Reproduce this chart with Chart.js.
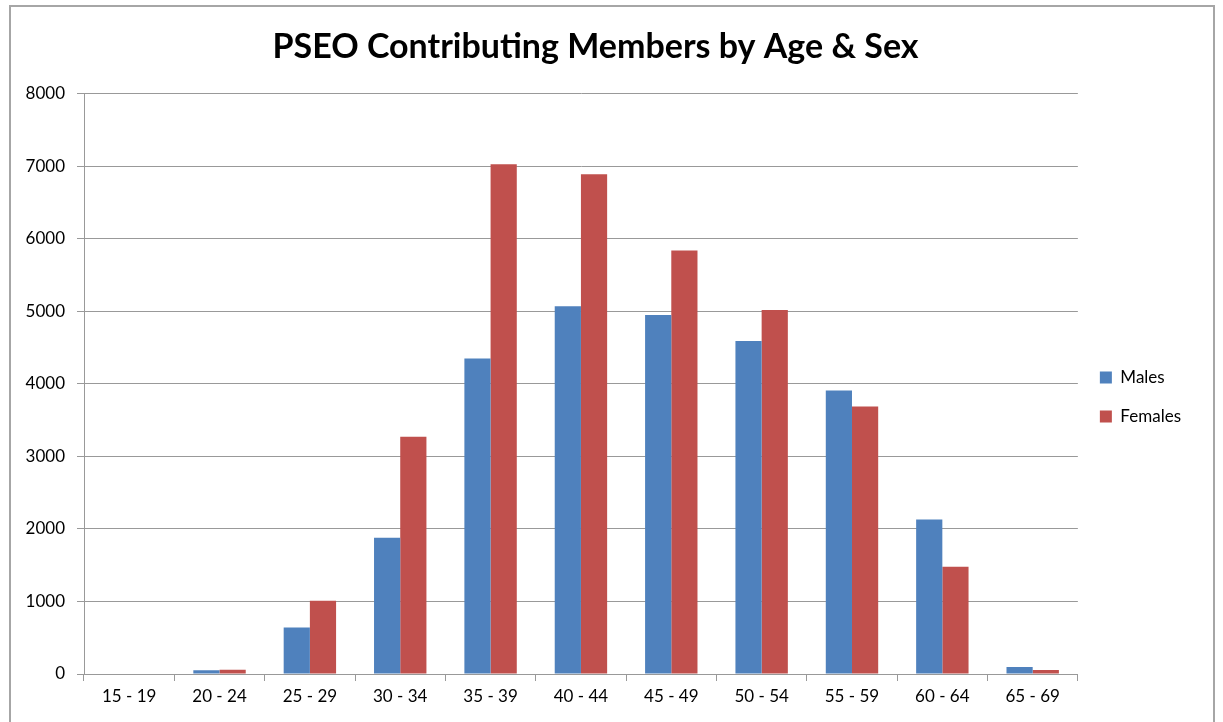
<!DOCTYPE html>
<html lang="en">
<head>
  <meta charset="UTF-8">
  <title>PSEO Contributing Members by Age &amp; Sex</title>
  <script src="https://cdn.jsdelivr.net/npm/chart.js"></script>
  <style>
    body { margin: 0; background: #fff; }
    #frame {
      position: absolute; left: 9px; top: 5px; width: 1206px; height: 730px;
      border: 2px solid #a6a6a6; box-sizing: border-box;
    }
    #wrap { position: absolute; left: 0; top: 0; width: 1223px; height: 722px; }
  </style>
</head>
<body>
  <div id="frame"></div>
  <div id="wrap"><canvas id="ageChart"></canvas></div>

  <script>
    const ageGroups = ['15 - 19', '20 - 24', '25 - 29', '30 - 34', '35 - 39', '40 - 44',
                       '45 - 49', '50 - 54', '55 - 59', '60 - 64', '65 - 69'];
    const males   = [0, 50, 640, 1880, 4350, 5070, 4950, 4590, 3910, 2130, 95];
    const females = [0, 60, 1010, 3270, 7030, 6890, 5840, 5020, 3690, 1480, 55];
    const yTicks  = [0, 1000, 2000, 3000, 4000, 5000, 6000, 7000, 8000];

    const font = 'Lato, "Open Sans", sans-serif';

    const ctx = document.getElementById('ageChart').getContext('2d');
    new Chart(ctx, {
      type: 'bar',
      data: {
        labels: ageGroups,
        datasets: [
          { label: 'Males', data: males, backgroundColor: '#4F81BD' },
          { label: 'Females', data: females, backgroundColor: '#C0504D' }
        ]
      },
      options: {
        responsive: true,
        maintainAspectRatio: false,
        animation: false,
        layout: { padding: { left: 0, right: 32, top: 0, bottom: 0 } },
        datasets: { bar: { categoryPercentage: 0.58, barPercentage: 1.0 } },
        scales: {
          x: {
            grid: { offset: true, drawOnChartArea: false, color: '#999', tickLength: 7 },
            border: { color: '#999' },
            ticks: { color: '#000', font: { family: font, size: 17 }, padding: 5 },
            afterFit: (scale) => { scale.height = 48; }
          },
          y: {
            min: 0, max: 8000,
            afterBuildTicks: (scale) => { scale.ticks = yTicks.map(v => ({ value: v })); },
            grid: { color: '#999', tickLength: 7 },
            border: { color: '#999' },
            ticks: { color: '#000', font: { family: font, size: 17 }, padding: 12,
                     callback: (v) => String(v) },
            afterFit: (scale) => { scale.width = 84; }
          }
        },
        plugins: {
          title: {
            display: true,
            text: 'PSEO Contributing Members by Age & Sex',
            color: '#000',
            font: { family: font, size: 34, weight: 'bold' },
            padding: { top: 27, bottom: 26 }
          },
          legend: {
            position: 'right',
            title: { display: true, text: ' ', font: { size: 10 }, padding: { top: 30, bottom: 30 } },
            labels: {
              color: '#000',
              font: { family: font, size: 17 },
              boxWidth: 12, boxHeight: 12,
              padding: 22
            }
          },
          tooltip: { enabled: false }
        }
      }
    });
  </script>
</body>
</html>
